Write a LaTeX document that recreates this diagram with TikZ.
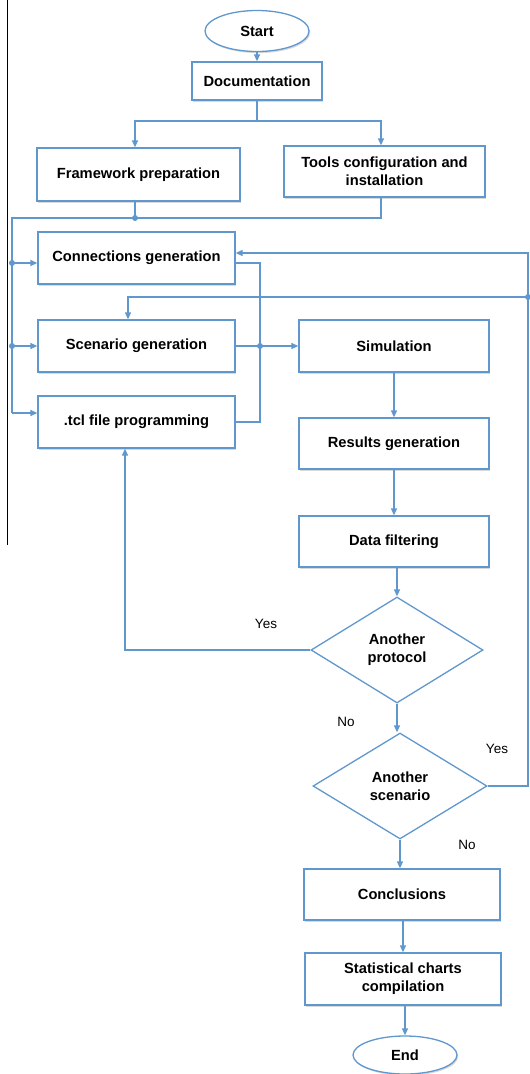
\documentclass[tikz,border=0pt]{standalone}
\usepackage{fontspec}
\setmainfont{Liberation Sans}
\usetikzlibrary{arrows.meta,shapes.geometric,shadows,calc}
\definecolor{flowblue}{RGB}{96,152,206}
\begin{document}
\begin{tikzpicture}[x=1pt,y=-1pt,
  every node/.style={font=\bfseries\fontsize{14.7}{18}\selectfont, align=center, inner sep=0pt},
  shade/.style={drop shadow={shadow xshift=1.2pt, shadow yshift=-1.6pt, opacity=0.3, fill=gray}},
  box/.style={draw=flowblue, line width=1.3pt, fill=white, shade},
  term/.style={ellipse, draw=flowblue, line width=1.3pt, fill=white, shade},
  decision/.style={diamond, draw=flowblue, line width=1.3pt, fill=white, aspect=1.62},
  link/.style={draw=flowblue, line width=1.3pt},
  flow/.style={link, -{Triangle[length=7pt,width=6pt]}},
  dot/.style={circle, fill=flowblue, minimum size=6pt},
  lbl/.style={font=\fontsize{13.5}{15}\selectfont}
]
\useasboundingbox (0,0) rectangle (530,1074);

% margin rule on the left
\draw[black, line width=0.8pt] (7.5,0) -- (7.5,545);

% process steps
\node[term, minimum width=104pt, minimum height=41pt] (start) at (257,31) {Start};
\node[box, minimum width=130pt, minimum height=38pt] (doc) at (257,81) {Documentation};
\node[box, minimum width=203pt, minimum height=53pt] (fw) at (138.5,174.5) {Framework preparation};
\node[box, minimum width=201pt, minimum height=51pt] (tools) at (384.5,171.5) {Tools configuration and\\installation};
\node[box, minimum width=197pt, minimum height=52pt] (conn) at (136.5,258) {Connections generation};
\node[box, minimum width=197pt, minimum height=52pt] (scen) at (136.5,346) {Scenario generation};
\node[box, minimum width=197pt, minimum height=52pt] (tcl) at (136.5,422) {.tcl file programming};
\node[box, minimum width=190pt, minimum height=52pt] (sim) at (394,346) {Simulation};
\node[box, minimum width=190pt, minimum height=51pt] (res) at (394,443.5) {Results generation};
\node[box, minimum width=190pt, minimum height=51pt] (filt) at (394,541.5) {Data filtering};
\node[decision, minimum width=172pt, minimum height=106pt] (proto) at (397,650) {Another\\protocol};
\node[decision, minimum width=174pt, minimum height=106pt] (scen2) at (400,786) {Another\\scenario};
\node[box, minimum width=196pt, minimum height=51pt] (concl) at (402,894.5) {Conclusions};
\node[box, minimum width=196pt, minimum height=52pt] (stats) at (403,979) {Statistical charts\\compilation};
\node[term, minimum width=104pt, minimum height=38pt] (endn) at (405,1055) {End};

% junction points
\coordinate (j0) at (257,121);
\coordinate (j1) at (135,218);
\coordinate (lb) at (12,218);
\coordinate (lb1) at (12,263);
\coordinate (lb2) at (12,346);
\coordinate (lb3) at (12,413);
\coordinate (rb) at (260,346);
\coordinate (rr) at (528,297);

% top part
\draw[flow] (start) -- (doc);
\draw[link] (doc) -- (j0);
\draw[flow] (j0) -| ($(fw.north)+(-3.5,0)$);
\draw[flow] (j0) -| ($(tools.north)+(-3.5,0)$);
\draw[link] ($(fw.south)+(-3.5,0)$) -- (j1);
\draw[link] ($(tools.south)+(-3.5,0)$) |- (lb) -- (lb3);

% left bus into the generation steps
\draw[flow] (lb1) -- (lb1 -| conn.west);
\draw[flow] (lb2) -- (scen.west);
\draw[flow] (lb3) -- (lb3 -| tcl.west);

% right bus into the simulation
\draw[link] ($(conn.east)+(0,5)$) -| (rb);
\draw[link] (tcl.east) -| (rb);
\draw[flow] (scen.east) -- (sim.west);

% main column
\draw[flow] (sim) -- (res);
\draw[flow] (res) -- (filt);
\draw[flow] (proto.north |- filt.south) -- (proto.north);
\draw[flow] (proto.south) -- (proto.south |- scen2.north);
\draw[flow] (scen2.south) -- (scen2.south |- concl.north);
\draw[flow] (concl.south -| stats) -- (stats.north);
\draw[flow] (stats.south -| endn) -- (endn.north);

% loop back: another protocol
\draw[flow] (proto.west) -| ($(tcl.south)+(-11.5,0)$);

% loop back: another scenario
\draw[link] (scen2.east) -| (rr);
\draw[flow] (rr) |- ($(conn.east)+(0,-5)$);
\draw[flow] (rr) -| ($(scen.north)+(-8.5,0)$);

% junction dots
\foreach \p in {j1,lb1,lb2,rb,rr} \node[dot] at (\p) {};

% branch labels
\node[lbl] at (266,624) {Yes};
\node[lbl] at (346,722) {No};
\node[lbl] at (497,749) {Yes};
\node[lbl] at (467,845) {No};
\end{tikzpicture}
\end{document}
